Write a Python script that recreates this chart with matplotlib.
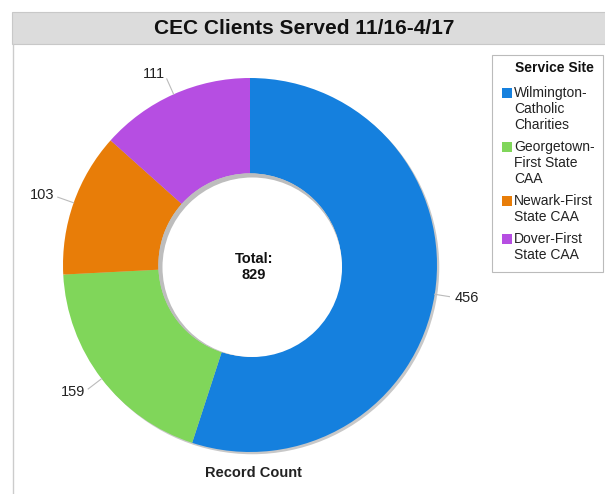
import matplotlib

matplotlib.use("Agg")
import matplotlib.pyplot as plt
import numpy as np
from matplotlib.patches import Circle, Rectangle

plt.rcParams["font.family"] = ["Liberation Sans", "DejaVu Sans"]

sites = [
    "Wilmington-\nCatholic\nCharities",
    "Georgetown-\nFirst State\nCAA",
    "Newark-First\nState CAA",
    "Dover-First\nState CAA",
]
counts = [456, 159, 103, 111]
colors = ["#1580de", "#80d65a", "#e87d08", "#b64ee2"]
title = "CEC Clients Served 11/16-4/17"
total_label = "Total:\n829"

W, H = 605, 494
fig = plt.figure(figsize=(W / 100, H / 100), dpi=100)


def px(x, y):
    return x / W, 1 - y / H


# title bar and left frame line
fig.patches.append(Rectangle(px(12, 44), 1, 32 / H, transform=fig.transFigure,
                             facecolor="#dcdcdc", edgecolor="#c8c8c8", linewidth=0.8))
fig.add_artist(plt.Line2D([13 / W, 13 / W], [0, 1 - 44 / H], transform=fig.transFigure,
                          color="#cccccc", linewidth=1))
fig.text(*px(304, 29), title, ha="center", va="center", fontsize=15,
         fontweight="bold", color="#111111")

# donut axes: center (250, 265) px, radius 187 px
cx, cy, rad = 250, 265, 187
half = 200
ax = fig.add_axes([(cx - half) / W, 1 - (cy + half) / H, 2 * half / W, 2 * half / H])
lim = half / rad

inner = 0.49
ax.add_patch(Circle((0.012, -0.012), 1.0, facecolor="#c8c8c8", edgecolor="none", zorder=0))
wedges, _ = ax.pie(counts, colors=colors, startangle=90, counterclock=False, radius=1.0,
                   wedgeprops=dict(width=1 - inner, edgecolor="none"))
for w in wedges:
    w.set_zorder(1)
ax.set_xlim(-lim, lim)
ax.set_ylim(-lim, lim)
ax.set_aspect("equal")
ax.axis("off")
ax.add_patch(Circle((0, 0), inner, facecolor="#bdbdbd", edgecolor="none", zorder=2))
ax.add_patch(Circle((0.012, -0.012), inner - 0.01, facecolor="white", edgecolor="none", zorder=3))

# value labels with leader lines
total = sum(counts)
start = 90.0
for value in counts:
    sweep = value / total * 360
    mid = np.deg2rad(start - sweep / 2)
    start -= sweep
    c, s = np.cos(mid), np.sin(mid)
    ax.plot([1.0 * c, 1.09 * c], [1.0 * s, 1.09 * s], color="#bbbbbb", linewidth=0.8, zorder=4)
    ha = "left" if c > 0.1 else ("right" if c < -0.1 else "center")
    ax.text(1.11 * c, 1.12 * s, str(value), ha=ha, va="center", fontsize=10.5,
            color="#222222", zorder=5)

ax.text(0.02, -0.01, total_label, ha="center", va="center", fontsize=10.5, fontweight="bold",
        color="#111111", linespacing=1.15, zorder=5)
fig.text(*px(253, 473), "Record Count", ha="center", va="center", fontsize=10.5,
         fontweight="bold", color="#222222")

# legend box drawn by hand so the swatches sit on the first line of each label
fig.patches.append(Rectangle(px(492, 272), 111 / W, 217 / H, transform=fig.transFigure,
                             facecolor="white", edgecolor="#bbbbbb", linewidth=0.8))
fig.text(*px(554, 68), "Service Site", ha="center", va="center", fontsize=10,
         fontweight="bold", color="#111111")
line_h = 16
y = 93
for name, color in zip(sites, colors):
    fig.patches.append(Rectangle(px(502, y + 5), 10 / W, 10 / H, transform=fig.transFigure,
                                 facecolor=color, edgecolor="none"))
    for line in name.split("\n"):
        fig.text(*px(514, y), line, ha="left", va="center", fontsize=10, color="#222222")
        y += line_h
    y += 6

fig.savefig("out.png", dpi=100)
